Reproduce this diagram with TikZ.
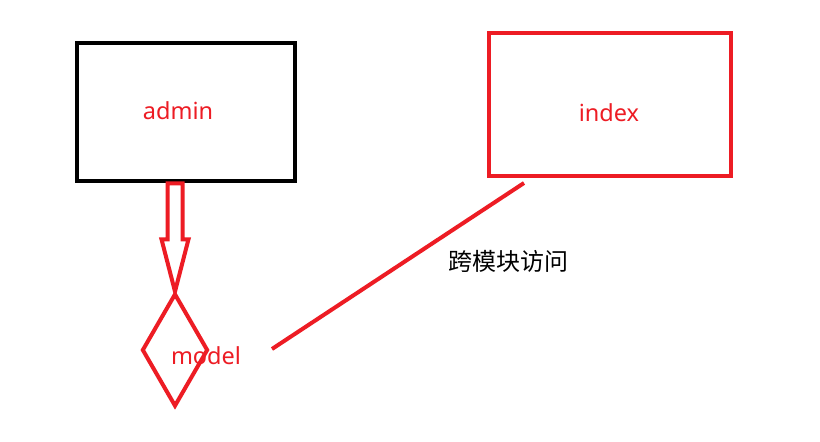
\documentclass[tikz,border=0pt]{standalone}
\usepackage{fontspec}
\setmainfont{Noto Sans}
\newfontfamily\cjk{Noto Sans CJK SC}
\usetikzlibrary{shapes.geometric,calc}
\definecolor{pred}{HTML}{ED1C24}
\tikzset{
  box/.style={draw, line width=4.5pt, inner sep=0pt},
  lbl/.style={text=pred, font=\fontsize{23.5}{26}\selectfont, inner sep=0pt},
  redline/.style={draw=pred, line width=4pt},
}
\begin{document}
\begin{tikzpicture}[x=1pt,y=-1pt]
\useasboundingbox[fill=white] (0,0) rectangle (820,442);
\node[box, draw=black, minimum width=218pt, minimum height=138pt] (admin) at (186,112) {};
\node[box, draw=pred, minimum width=242pt, minimum height=143pt] (index) at (610,104.5) {};
\node[lbl] (admintxt) at (178,111) {admin};
\node[lbl] (indextxt) at (609,113) {index};
\node[draw=pred, line width=4pt, diamond, inner sep=0pt, minimum width=66pt, minimum height=113pt] (model) at (175,350) {};
\node[lbl] (modeltxt) at (206,356) {model};
\node[font=\cjk\fontsize{24}{26}\selectfont, inner sep=0pt] (cross) at (508,261) {跨模块访问};
% block arrow
\coordinate (top) at (model.north |- admin.south);
\draw[redline, line join=miter]
  ($(top)+(-7.5,0)$) -- ++(0,56) -- ++(-6,0) -- (model.north) -- ($(top)+(13.5,56)$) -- ++(-6,0) -- ++(0,-56) -- cycle;
\coordinate (a) at (272,349);
\coordinate (b) at (524,183);
\draw[redline] (a) -- (b);
\end{tikzpicture}
\end{document}
